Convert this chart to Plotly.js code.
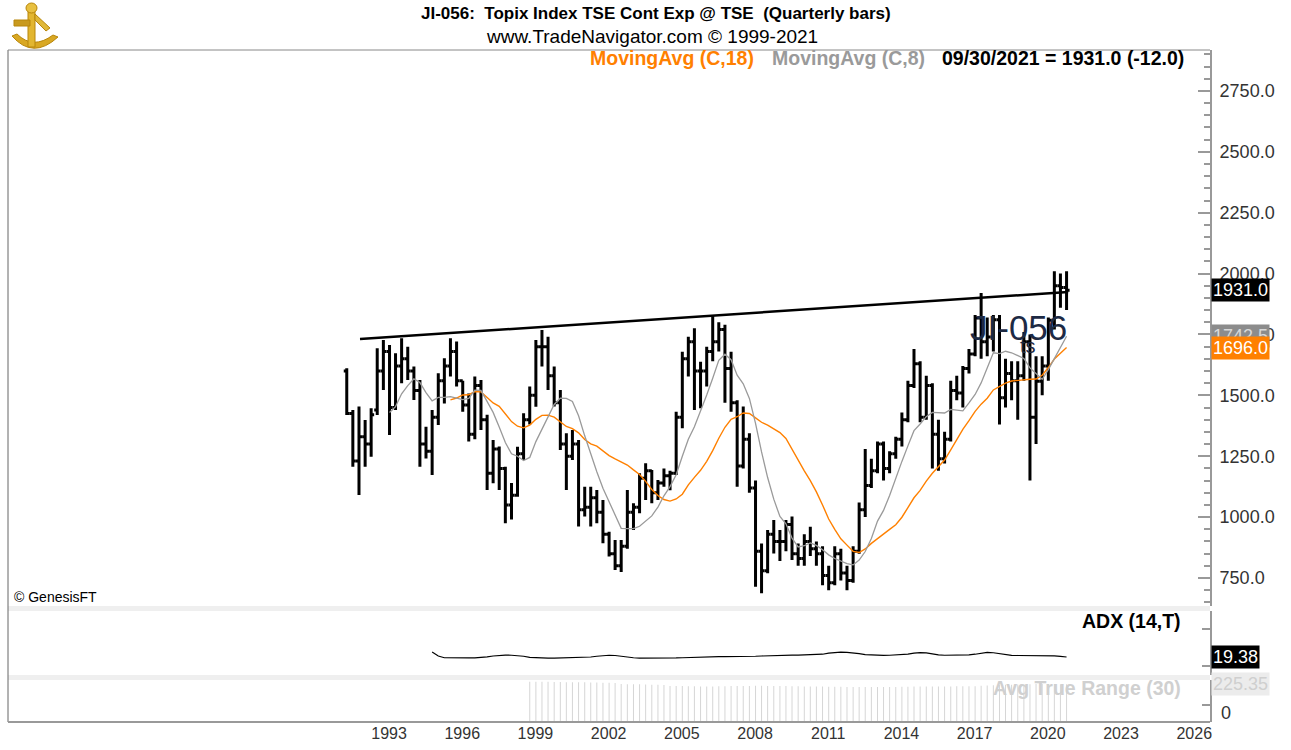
<!DOCTYPE html>
<html><head><meta charset="utf-8">
<script src="https://cdn.plot.ly/plotly-3.0.1.min.js"></script>
<style>html,body{margin:0;padding:0;background:#fff;}#chart{width:1291px;height:750px;}</style>
</head><body><div id="chart"></div>
<script>
// ---- data (quarterly bars, first bar = 1992 Q1) ----
const firstYear = 1992, firstQuarter = 1;
const openP  = [1600,1425,1230,1330,1300,1440,1600,1680,1450,1620,1650,1600,1520,1300,1270,1410,1560,1620,1680,1560,
                1460,1340,1540,1400,1180,1280,1200,1050,1090,1260,1400,1500,1700,1700,1580,1470,1300,1250,1300,1030,
                1040,1080,1020,930,850,800,880,1020,1040,1160,1190,1100,1140,1170,1180,1410,1650,1720,1600,1600,
                1680,1720,1770,1610,1470,1210,1320,1120,860,780,930,900,900,970,850,830,900,870,850,760,
                730,850,770,740,860,1030,1130,1190,1300,1200,1260,1320,1400,1540,1630,1410,1540,1340,1240,1320,
                1520,1510,1610,1670,1818,1720,1740,1810,1490,1590,1560,1580,1720,1410,1558,1620,1808,1950,1943];
const highP  = [1611,1440,1454,1399,1447,1693,1727,1707,1673,1734,1700,1618,1563,1371,1440,1591,1652,1734,1721,1560,
                1508,1577,1563,1420,1317,1290,1207,1140,1289,1426,1536,1727,1768,1741,1618,1522,1344,1358,1317,1125,
                1125,1111,1070,940,906,906,1111,1057,1180,1221,1193,1152,1200,1190,1433,1679,1741,1775,1638,1700,
                1830,1800,1790,1679,1480,1454,1344,1150,892,947,988,947,988,1002,892,930,960,900,880,800,
                880,870,800,880,1060,1280,1240,1310,1310,1270,1330,1430,1560,1690,1640,1580,1550,1400,1350,1560,
                1580,1620,1690,1830,1920,1820,1830,1830,1650,1640,1640,1760,1750,1660,1660,1820,2010,2000,2010];
const lowP   = [1419,1207,1091,1207,1248,1419,1522,1337,1440,1550,1563,1481,1207,1241,1173,1378,1467,1577,1536,1433,
                1310,1320,1358,1111,1139,1111,975,990,1084,1235,1380,1453,1618,1522,1454,1276,1111,1235,961,1002,
                961,975,893,838,783,775,870,947,1016,1070,1057,1070,1125,1110,1173,1365,1577,1440,1447,1536,
                1640,1680,1470,1433,1125,1200,1100,714,687,769,851,820,860,824,800,800,840,800,720,700,
                720,740,700,730,850,1000,1120,1180,1150,1180,1240,1290,1390,1530,1390,1400,1200,1190,1220,1310,
                1480,1450,1590,1660,1650,1660,1680,1380,1450,1480,1400,1560,1150,1300,1500,1560,1770,1860,1850];
const closeP = [1425,1230,1330,1300,1420,1600,1680,1450,1620,1650,1600,1520,1300,1270,1410,1560,1620,1680,1560,1460,
                1340,1540,1400,1180,1280,1200,1050,1090,1260,1400,1500,1700,1700,1580,1470,1300,1250,1300,1030,1040,
                1080,1020,930,850,800,880,1020,1040,1160,1190,1100,1140,1170,1180,1410,1650,1720,1600,1600,1680,
                1720,1770,1610,1470,1210,1320,1120,860,780,930,900,900,970,850,830,900,870,850,760,730,
                850,770,740,860,1030,1130,1190,1300,1200,1260,1320,1400,1540,1630,1410,1540,1340,1240,1320,1520,
                1510,1610,1670,1818,1720,1740,1810,1490,1590,1560,1580,1720,1410,1558,1620,1808,1950,1943,1931];
const adxStart = 14;
const adxValues = [24.8,20.5,18.6,18.4,18.3,18.3,18.4,18.5,18.7,19.5,20.5,21.2,21.4,21.3,21.0,20.2,
                   19.0,18.5,18.3,18.2,18.2,18.3,18.3,18.4,18.5,18.8,19.4,20.2,20.9,21.3,21.0,
                   20.0,19.2,18.6,18.3,18.2,18.1,18.1,18.2,18.3,18.4,18.6,18.9,19.3,
                   19.6,19.8,19.9,19.9,19.9,19.8,19.8,19.9,20.0,20.2,20.5,20.8,
                   21.1,21.3,21.4,21.4,21.4,21.5,21.6,21.8,22.4,23.5,24.3,24.6,24.5,24.0,
                   23.0,22.0,21.5,21.3,21.2,21.3,21.5,21.8,22.5,23.6,24.2,23.8,
                   22.6,21.7,21.3,21.2,21.2,21.3,21.6,22.4,23.7,24.4,24.0,
                   22.8,21.8,21.2,21.0,21.0,21.1,21.2,21.1,21.0,20.6,20.1,19.38];
const atrStart = 30;
const atrValues = [240,240,239,239,238,238,237,237,236,236,235,235,234,233,232,
                   226,225,224,224,223,222,221,220,
                   215,214,214,213,213,212,212,212,213,213,214,214,215,215,216,216,215,215,214,214,
                   213,213,212,212,211,211,210,210,210,209,209,209,208,208,208,208,209,209,210,210,
                   211,211,211,212,212,212,212,213,213,213,213,
                   216,218,219,221,222,222,223,223,225,226,226,226,226,225,225.35];
const yearTicks = [1993,1996,1999,2002,2005,2008,2011,2014,2017,2020,2023,2026];
const trendDates = ['1992-10-15','2021-10-23'];
const trendValues = [1731.5,1924.5];
const maLong = 18, maShort = 8;
const lastDate = '09/30/2021', lastChange = -12.0;
const adxLast = 19.38, atrLast = 225.35;

// ---- helpers ----
function qEnd(i){
  const q = firstQuarter - 1 + i;
  const y = firstYear + Math.floor(q/4);
  const m = ['03','06','09','12'][q%4];
  const d = ['31','30','30','31'][q%4];
  return y + '-' + m + '-' + d;
}
const dates = closeP.map((_, i) => qEnd(i));
function sma(arr, n){
  const out = [];
  for (let i = 0; i < arr.length; i++){
    if (i < n-1){ out.push(null); continue; }
    let s = 0; for (let k = i-n+1; k <= i; k++) s += arr[k];
    out.push(s/n);
  }
  return out;
}
const ma18 = sma(closeP, maLong), ma8 = sma(closeP, maShort);
const px = p => (p - 8) / 1202;
const py = p => (722 - p) / 672;
const ARIAL = '"Liberation Sans", Arial, sans-serif';
// decorative logo path helper (pixel points -> paper path)
function logoPath(cmds){
  return cmds.map(c => typeof c === 'string' ? c : px(c[0]).toFixed(5) + ',' + py(c[1]).toFixed(5)).join(' ');
}

const traces = [
  {type:'ohlc', x:dates, open:openP, high:highP, low:lowP, close:closeP, xaxis:'x', yaxis:'y',
   increasing:{line:{color:'#000', width:3}}, decreasing:{line:{color:'#000', width:3}},
   tickwidth:0.5, hoverinfo:'skip'},
  {type:'scatter', mode:'lines', x:dates, y:ma18, line:{color:'#FF8000', width:1.4}, hoverinfo:'skip', connectgaps:false},
  {type:'scatter', mode:'lines', x:dates, y:ma8, line:{color:'#9a9a9a', width:1.3}, hoverinfo:'skip', connectgaps:false},
  {type:'scatter', mode:'lines', x:trendDates, y:trendValues, line:{color:'#000', width:2.5}, hoverinfo:'skip'},
  {type:'scatter', mode:'lines', x:dates.slice(adxStart), y:adxValues, xaxis:'x', yaxis:'y2',
   line:{color:'#000', width:1.2}, hoverinfo:'skip'},
  {type:'bar', x:dates.slice(atrStart), y:atrValues, xaxis:'x', yaxis:'y3',
   marker:{color:'#d6d6d6', line:{width:0}}, width:1.3e9, hoverinfo:'skip'}
];

const lastClose = closeP[closeP.length-1];
const annotations = [
  {text:'<b>JI-056:  Topix Index TSE Cont Exp @ TSE  (Quarterly bars)</b>', x:px(656), y:py(14), xref:'paper', yref:'paper',
   showarrow:false, xanchor:'center', yanchor:'middle', font:{family:ARIAL, size:17, color:'#000'}},
  {text:'www.TradeNavigator.com © 1999-2021', x:px(652), y:py(36), xref:'paper', yref:'paper',
   showarrow:false, xanchor:'center', yanchor:'middle', font:{family:ARIAL, size:19, color:'#000'}},
  {text:'<b>MovingAvg (C,' + maLong + ')</b>', x:px(588), y:py(58), xref:'paper', yref:'paper',
   showarrow:false, xanchor:'left', yanchor:'middle', font:{family:ARIAL, size:19.5, color:'#FF8000'}},
  {text:'<b>MovingAvg (C,' + maShort + ')</b>', x:px(770), y:py(58), xref:'paper', yref:'paper',
   showarrow:false, xanchor:'left', yanchor:'middle', font:{family:ARIAL, size:19.5, color:'#9a9a9a'}},
  {text:'<b>' + lastDate + ' = ' + lastClose.toFixed(1) + ' (' + lastChange.toFixed(1) + ')</b>', x:px(940), y:py(58), xref:'paper', yref:'paper',
   showarrow:false, xanchor:'left', yanchor:'middle', font:{family:ARIAL, size:19.5, color:'#000'}},
  {text:'© GenesisFT', x:px(12), y:py(597), xref:'paper', yref:'paper',
   showarrow:false, xanchor:'left', yanchor:'middle', font:{family:ARIAL, size:14, color:'#000'}},
  {text:'<b>ADX (14,T)</b>', x:px(1183), y:py(621), xref:'paper', yref:'paper',
   showarrow:false, xanchor:'right', yanchor:'middle', font:{family:ARIAL, size:19.5, color:'#000'}},
  {text:'<b>Avg True Range (30)</b>', x:px(1183), y:py(688), xref:'paper', yref:'paper',
   showarrow:false, xanchor:'right', yanchor:'middle', font:{family:ARIAL, size:19.5, color:'#d0d0d0'}},
  {text:'JI-056', x:px(1018), y:py(327), xref:'paper', yref:'paper',
   showarrow:false, xanchor:'center', yanchor:'middle', font:{family:ARIAL, size:35, color:'#1d2a44'}},
  {text:'ts', x:px(1028), y:py(346), xref:'paper', yref:'paper',
   showarrow:false, xanchor:'center', yanchor:'middle', font:{family:ARIAL, size:20, color:'#1d2a44'}},
  {text:'0', x:px(1219), y:py(713), xref:'paper', yref:'paper',
   showarrow:false, xanchor:'left', yanchor:'middle', font:{family:ARIAL, size:18, color:'#333'}},
  // value boxes
  {text:ma8[ma8.length-1].toFixed(1), x:px(1211), y:ma8[ma8.length-1], xref:'paper', yref:'y',
   showarrow:false, xanchor:'left', yanchor:'middle', bgcolor:'#8c8c8c', borderpad:1, font:{family:ARIAL, size:18, color:'#d8d8d8'}},
  {text:lastClose.toFixed(1), x:px(1211), y:lastClose, xref:'paper', yref:'y',
   showarrow:false, xanchor:'left', yanchor:'middle', bgcolor:'#000', borderpad:1, font:{family:ARIAL, size:18, color:'#fff'}},
  {text:ma18[ma18.length-1].toFixed(1), x:px(1211), y:ma18[ma18.length-1], xref:'paper', yref:'y',
   showarrow:false, xanchor:'left', yanchor:'middle', bgcolor:'#FF8000', borderpad:1, font:{family:ARIAL, size:18, color:'#fff'}},
  {text:adxLast.toFixed(2), x:px(1211), y:adxLast, xref:'paper', yref:'y2',
   showarrow:false, xanchor:'left', yanchor:'middle', bgcolor:'#000', borderpad:1, font:{family:ARIAL, size:18, color:'#fff'}},
  {text:atrLast.toFixed(2), x:px(1211), y:atrLast, xref:'paper', yref:'y3',
   showarrow:false, xanchor:'left', yanchor:'middle', bgcolor:'#ececec', borderpad:1, font:{family:ARIAL, size:18, color:'#cfcfcf'}}
];

const shapes = [
  {type:'rect', xref:'paper', yref:'paper', x0:0, x1:1, y0:py(611), y1:py(606), fillcolor:'#efefef', line:{width:0}, layer:'below'},
  {type:'rect', xref:'paper', yref:'paper', x0:0, x1:1, y0:py(680), y1:py(675), fillcolor:'#efefef', line:{width:0}, layer:'below'},
  {type:'line', xref:'paper', yref:'paper', x0:0, x1:0, y0:0, y1:1, line:{color:'#666', width:1}},
  {type:'line', xref:'paper', yref:'paper', x0:0, x1:1, y0:1, y1:1, line:{color:'#888', width:1}},
  {type:'line', xref:'paper', yref:'paper', x0:0, x1:1, y0:0, y1:0, line:{color:'#999', width:2}},
  // decorative gold logo (top-left)
  {type:'path', xref:'paper', yref:'paper', fillcolor:'#D9A823', line:{color:'#B8860B', width:1},
   path:logoPath(['M',[12,36],'Q',[33,60],[58,37],'L',[53,35],'Q',[33,50],[17,34],'Z'])},
  {type:'rect', xref:'paper', yref:'paper', x0:px(28), x1:px(35), y0:py(47), y1:py(9), fillcolor:'#E2B630', line:{color:'#B8860B', width:1}},
  {type:'rect', xref:'paper', yref:'paper', x0:px(14), x1:px(30), y0:py(26), y1:py(20), fillcolor:'#C99A1E', line:{color:'#B8860B', width:1}},
  {type:'circle', xref:'paper', yref:'paper', x0:px(26), x1:px(37), y0:py(13), y1:py(3), fillcolor:'#E8C040', line:{color:'#B8860B', width:1}},
  {type:'path', xref:'paper', yref:'paper', fillcolor:'#E0B838', line:{color:'#B8860B', width:1},
   path:logoPath(['M',[35,14],'L',[50,28],'L',[46,31],'L',[35,20],'Z'])}
];

const layout = {
  width:1291, height:750, margin:{l:8, r:81, t:50, b:28, pad:0},
  paper_bgcolor:'#fff', plot_bgcolor:'#fff', showlegend:false, dragmode:false,
  font:{family:ARIAL, color:'#333'},
  xaxis:{type:'date', range:['1978-05-13','2027-08-17'], anchor:'y3',
         tickvals:yearTicks.map(y => y + '-12-24'), ticktext:yearTicks.map(String),
         ticks:'', showgrid:false, zeroline:false, showline:false,
         tickfont:{family:ARIAL, size:16, color:'#333'}, rangeslider:{visible:false}, fixedrange:true},
  yaxis:{domain:[py(606), 1], range:[635, 2918], side:'right', anchor:'x',
         tick0:750, dtick:250, tickformat:'.1f', ticks:'inside', ticklen:12, tickcolor:'#999', tickwidth:2,
         minor:{dtick:50, ticks:'inside', ticklen:6, tickcolor:'#999', tickwidth:2},
         showline:true, linecolor:'#999', linewidth:2, showgrid:false, zeroline:false, ticklabelstandoff:4,
         tickfont:{family:ARIAL, size:18, color:'#333'}, fixedrange:true},
  yaxis2:{domain:[py(675), py(611)], range:[0, 69], side:'right', anchor:'x',
          tickvals:[10, 50], ticks:'inside', ticklen:8, tickcolor:'#999', tickwidth:2, showticklabels:false,
          showline:true, linecolor:'#999', linewidth:2, showgrid:false, zeroline:false, fixedrange:true},
  yaxis3:{domain:[0, py(680)], range:[0, 250], side:'right', anchor:'x',
          tickvals:[100], ticks:'inside', ticklen:8, tickcolor:'#999', tickwidth:2, showticklabels:false,
          showline:true, linecolor:'#999', linewidth:2, showgrid:false, zeroline:false, fixedrange:true},
  annotations:annotations, shapes:shapes
};

Plotly.newPlot('chart', traces, layout, {displayModeBar:false, staticPlot:true});
</script>
</body></html>
